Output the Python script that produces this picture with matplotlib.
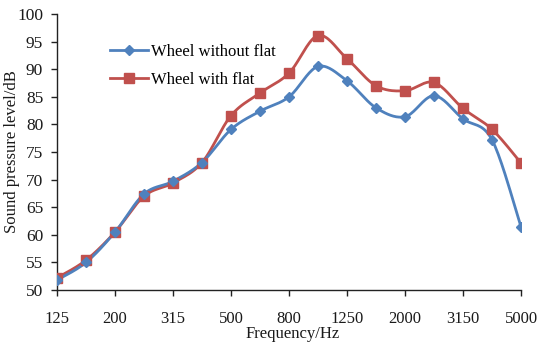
import numpy as np
import matplotlib
matplotlib.use("Agg")
import matplotlib.pyplot as plt
from matplotlib.lines import Line2D

plt.rcParams['font.family'] = ['Liberation Serif', 'DejaVu Serif']

freqs = ["125", "160", "200", "250", "315", "400", "500", "630", "800", "1000",
         "1250", "1600", "2000", "2500", "3150", "4000", "5000"]
without_flat = [51.8, 55.0, 60.5, 67.4, 69.7, 73.1, 79.1, 82.4, 85.0, 90.5,
                87.9, 83.0, 81.4, 85.2, 81.0, 77.2, 61.4]
with_flat = [52.2, 55.4, 60.5, 67.0, 69.4, 73.1, 81.6, 85.7, 89.3, 96.1,
             91.9, 87.0, 86.1, 87.6, 82.9, 79.1, 73.0]
shown_ticks = ["125", "200", "315", "500", "800", "1250", "2000", "3150", "5000"]

blue = "#4F81BD"
red = "#C0504D"


def smooth(y, n=20, tension=0.5):
    """Cardinal spline through the points (category index on x)."""
    y = np.asarray(y, float)
    x = np.arange(len(y), dtype=float)
    xs, ys = [], []
    for i in range(len(y) - 1):
        p0 = (x[i - 1], y[i - 1]) if i > 0 else (x[i], y[i])
        p1 = (x[i], y[i])
        p2 = (x[i + 1], y[i + 1])
        p3 = (x[i + 2], y[i + 2]) if i + 2 < len(y) else (x[i + 1], y[i + 1])
        t = np.linspace(0, 1, n, endpoint=False)
        m1 = [tension * (p2[k] - p0[k]) for k in range(2)]
        m2 = [tension * (p3[k] - p1[k]) for k in range(2)]
        h00 = 2 * t**3 - 3 * t**2 + 1
        h10 = t**3 - 2 * t**2 + t
        h01 = -2 * t**3 + 3 * t**2
        h11 = t**3 - t**2
        xs.append(h00 * p1[0] + h10 * m1[0] + h01 * p2[0] + h11 * m2[0])
        ys.append(h00 * p1[1] + h10 * m1[1] + h01 * p2[1] + h11 * m2[1])
    xs.append([x[-1]])
    ys.append([y[-1]])
    return np.concatenate(xs), np.concatenate(ys)


fig = plt.figure(figsize=(5.39, 3.51), dpi=100)
ax = fig.add_axes([0.1058, 0.1738, 0.8609, 0.7862])

idx = np.arange(len(freqs))
for vals, col, mk, ms in [(with_flat, red, "s", 6.5), (without_flat, blue, "D", 5.5)]:
    sx, sy = smooth(vals)
    ax.plot(sx, sy, color=col, lw=2.0, zorder=2)
    ax.plot(idx, vals, ls="none", marker=mk, ms=ms, color=col, zorder=3)

ax.set_xlim(0, len(freqs) - 1)
ax.set_ylim(50, 100)
ax.set_yticks(np.arange(50, 101, 5))
tick_pos = [freqs.index(f) for f in shown_ticks]
ax.set_xticks(tick_pos)
ax.set_xticklabels(shown_ticks)

for s in ["top", "right"]:
    ax.spines[s].set_visible(False)
for s in ["left", "bottom"]:
    ax.spines[s].set_color("#222222")
    ax.spines[s].set_linewidth(1.0)
ax.tick_params(axis="both", direction="out", length=4, width=1.0,
               color="#222222", labelsize=12, labelcolor="#1a1a1a")
ax.tick_params(axis="x", pad=11)
ax.tick_params(axis="y", labelsize=12.5, pad=6)

ax.set_xlabel("Frequency/Hz", fontsize=12, color="#1a1a1a")
ax.set_ylabel("Sound pressure level/dB", fontsize=12, color="#1a1a1a")
ax.xaxis.set_label_coords(0.507, -0.132)
ax.yaxis.set_label_coords(-0.08, 0.5)

handles = [Line2D([], [], color=blue, lw=2.0, marker="D", ms=5.5),
           Line2D([], [], color=red, lw=2.0, marker="s", ms=6.5)]
ax.legend(handles, ["Wheel without flat", "Wheel with flat"], loc="upper left",
          bbox_to_anchor=(0.082, 0.945), frameon=False, fontsize=12,
          handlelength=2.3, handletextpad=0.15, labelspacing=0.72)

fig.savefig("out.png", dpi=100)
